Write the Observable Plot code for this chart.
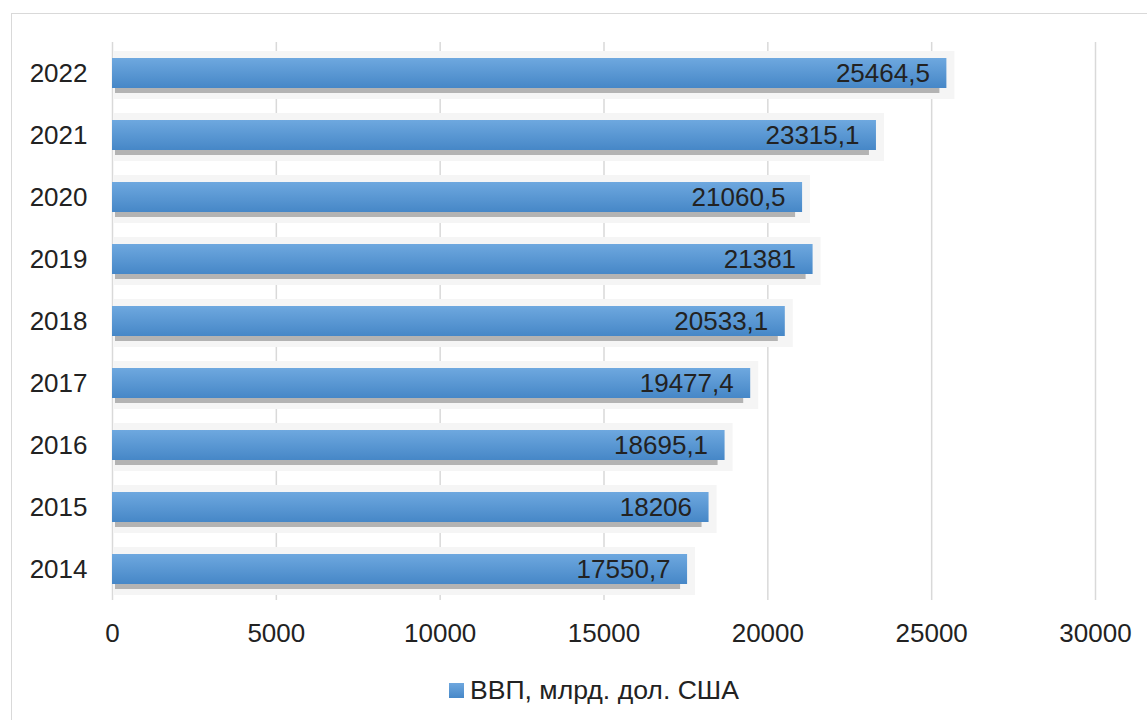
<!DOCTYPE html>
<html>
<head>
<meta charset="utf-8">
<script src="https://cdn.jsdelivr.net/npm/d3@7"></script>
<script src="https://cdn.jsdelivr.net/npm/@observablehq/plot@0.6"></script>
<style>
  html, body { margin: 0; padding: 0; background: #fff; overflow: hidden; }
  #wrap { position: relative; width: 1147px; height: 720px; overflow: hidden; font-family: "Liberation Sans", Arial, sans-serif; }
  #frame { position: absolute; left: 11px; top: 13px; width: 1300px; height: 900px; border: 1.5px solid #d9d9d9; box-sizing: border-box; }
  #chart { position: absolute; left: 0; top: 0; }
  #legend { position: absolute; left: 449px; top: 670px; height: 40px; display: flex; align-items: center; font-size: 26.6px; color: #222; }
  #legend .sw { width: 15px; height: 15px; background: linear-gradient(#6ea7de, #4788c8); margin-right: 6px; }
</style>
</head>
<body>
<div id="wrap">
  <div id="frame"></div>
  <div id="chart"></div>
  <div id="legend"><div class="sw"></div><span id="legendLabel"></span></div>
</div>
<script>
const years = ["2014", "2015", "2016", "2017", "2018", "2019", "2020", "2021", "2022"];
const gdp = [17550.7, 18206, 18695.1, 19477.4, 20533.1, 21381, 21060.5, 23315.1, 25464.5];
const labels = ["17550,7", "18206", "18695,1", "19477,4", "20533,1", "21381", "21060,5", "23315,1", "25464,5"];
const xTicks = [0, 5000, 10000, 15000, 20000, 25000, 30000];
const seriesName = "ВВП, млрд. дол. США";

document.getElementById("legendLabel").textContent = seriesName;

const data = years.map((y, i) => ({year: y, value: gdp[i], label: labels[i]}));

const defs = () => {
  const d = d3.create("svg:defs");
  const g = d.append("linearGradient").attr("id", "barGrad").attr("x1", 0).attr("y1", 0).attr("x2", 0).attr("y2", 1);
  g.append("stop").attr("offset", "0%").attr("stop-color", "#6ea8df");
  g.append("stop").attr("offset", "100%").attr("stop-color", "#4687c7");
  return d.node();
};

const chart = Plot.plot({
  width: 1147,
  height: 660,
  marginLeft: 112,
  marginRight: 52,
  marginTop: 42,
  marginBottom: 60,
  style: {fontFamily: "'Liberation Sans', Arial, sans-serif", fontSize: "26px", color: "#222", background: "transparent"},
  x: {domain: [0, 30000], ticks: xTicks},
  y: {domain: years.slice().reverse(), paddingInner: 0.52, paddingOuter: 0.26},
  marks: [
    defs,
    Plot.ruleX(xTicks, {stroke: "#d9d9d9", strokeWidth: 1.5}),
    Plot.barX(data, {y: "year", x: "value", fill: "#f5f5f5", insetTop: -7, insetBottom: -11, insetRight: -8, insetLeft: 2}),
    Plot.barX(data, {y: "year", x: "value", fill: "#b3b3b3", dx: 3, dy: 5, insetRight: 10}),
    Plot.barX(data, {y: "year", x: "value", fill: "url(#barGrad)"}),
    Plot.text(data, {y: "year", x: "value", text: "label", textAnchor: "end", dx: -17, fontSize: 26, fill: "#222"}),
    Plot.axisX({ticks: xTicks, tickSize: 0, tickPadding: 23, tickFormat: d => String(d), fontSize: 26, label: null}),
    Plot.axisY({tickSize: 0, tickPadding: 25, fontSize: 26, label: null})
  ]
});
document.getElementById("chart").appendChild(chart);
</script>
</body>
</html>
